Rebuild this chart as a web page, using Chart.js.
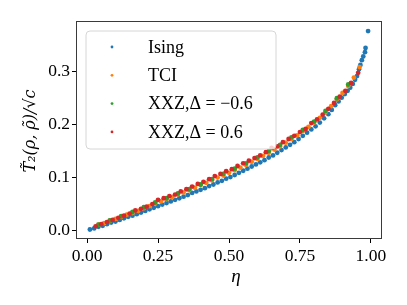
<!DOCTYPE html>
<html>
<head>
<meta charset="utf-8">
<script src="https://cdn.jsdelivr.net/npm/chart.js@4"></script>
<style>
  html, body { margin: 0; padding: 0; background: #fff; }
  #c { display: block; }
</style>
</head>
<body>
<canvas id="c" width="407" height="305"></canvas>
<script>
// ---------------- data ----------------
const isingEta = [0.010,0.025,0.040,0.055,0.070,0.085,0.100,0.115,0.130,0.145,0.160,0.175,0.190,0.205,0.220,0.235,0.250,0.265,0.280,0.295,0.310,0.325,0.340,0.355,0.370,0.385,0.400,0.415,0.430,0.445,0.460,0.475,0.490,0.505,0.520,0.535,0.550,0.565,0.580,0.595,0.610,0.625,0.640,0.655,0.670,0.685,0.700,0.715,0.730,0.745,0.760,0.775,0.790,0.805,0.820,0.835,0.850,0.862,0.874,0.886,0.897,0.908,0.918,0.927,0.936,0.944,0.951,0.958,0.963,0.968,0.973,0.979,0.981,0.990];
const isingT2 = [0.002,0.004,0.007,0.009,0.012,0.015,0.017,0.020,0.023,0.026,0.028,0.031,0.034,0.037,0.040,0.043,0.046,0.049,0.052,0.055,0.058,0.061,0.064,0.067,0.071,0.074,0.077,0.080,0.084,0.087,0.091,0.094,0.098,0.101,0.105,0.109,0.113,0.117,0.121,0.125,0.129,0.133,0.138,0.142,0.147,0.152,0.157,0.162,0.167,0.173,0.179,0.185,0.191,0.197,0.204,0.212,0.220,0.228,0.237,0.244,0.251,0.258,0.264,0.270,0.277,0.285,0.292,0.305,0.313,0.322,0.329,0.337,0.345,0.377];

const tciEta = [0.04,0.06,0.08,0.10,0.12,0.14,0.16,0.18,0.20,0.22,0.24,0.26,0.28,0.30,0.32,0.34,0.36,0.38,0.40,0.42,0.44,0.46,0.48,0.50,0.52,0.54,0.56,0.58,0.60,0.62,0.64,0.66,0.68,0.70,0.72,0.74,0.76,0.78,0.80,0.82,0.84,0.86,0.88,0.90,0.92,0.94,0.96];
const tciT2 = [0.011,0.014,0.018,0.022,0.026,0.030,0.033,0.037,0.042,0.046,0.051,0.055,0.059,0.063,0.068,0.072,0.076,0.081,0.086,0.090,0.095,0.100,0.104,0.109,0.114,0.119,0.124,0.130,0.135,0.141,0.147,0.153,0.159,0.166,0.173,0.180,0.188,0.196,0.204,0.213,0.223,0.235,0.248,0.260,0.273,0.289,0.309];

const xxzNegEta = [0.04,0.08,0.12,0.16,0.20,0.24,0.28,0.32,0.36,0.40,0.44,0.48,0.52,0.56,0.60,0.64,0.68,0.72,0.76,0.80,0.84,0.88,0.92];
const xxzNegT2 = [0.011,0.019,0.027,0.035,0.044,0.053,0.061,0.070,0.078,0.087,0.097,0.107,0.117,0.127,0.138,0.150,0.162,0.176,0.190,0.206,0.226,0.250,0.276];

const xxzPosEta = [0.03,0.05,0.07,0.09,0.11,0.13,0.15,0.17,0.19,0.21,0.23,0.25,0.27,0.29,0.31,0.33,0.35,0.37,0.39,0.41,0.43,0.45,0.47,0.49,0.51,0.53,0.55,0.57,0.59,0.61,0.63,0.65,0.67,0.69,0.71,0.73,0.75,0.77,0.79,0.81,0.83,0.85,0.87,0.89,0.91,0.93,0.955];
const xxzPosT2 = [0.008,0.012,0.016,0.020,0.024,0.028,0.032,0.038,0.041,0.045,0.050,0.058,0.061,0.065,0.068,0.074,0.078,0.083,0.088,0.092,0.097,0.103,0.107,0.112,0.116,0.122,0.127,0.132,0.137,0.142,0.148,0.156,0.159,0.167,0.173,0.179,0.186,0.192,0.203,0.210,0.219,0.230,0.241,0.253,0.264,0.279,0.298];

const seriesLabels = ['Ising', 'TCI', 'XXZ,\u0394 = \u22120.6', 'XXZ,\u0394 = 0.6'];
const seriesColors = ['#1f77b4', '#ff7f0e', '#2ca02c', '#d62728'];

const xTicks = [0, 0.25, 0.5, 0.75, 1.0];
const yTicks = [0, 0.1, 0.2, 0.3];

const xTitle = '\u03B7';
const yTitle = 'T\u0303\u2082(\u03C1, \u03C1\u0303)/\u221Ac';

// ---------------- helpers ----------------
const toPoints = (xs, ys) => xs.map((x, i) => ({ x: x, y: ys[i] }));
const serif = '"Liberation Serif", "DejaVu Serif", serif';

const frameAndLabels = {
  id: 'frameAndLabels',
  afterDraw(chart) {
    const { ctx, chartArea: a } = chart;
    ctx.save();
    // axes frame
    ctx.strokeStyle = '#3a3a3a';
    ctx.lineWidth = 1;
    ctx.strokeRect(a.left + 0.5, a.top + 0.5, a.right - a.left - 1, a.bottom - a.top - 1);

    // axis titles
    ctx.fillStyle = '#000';
    ctx.font = 'italic 19px ' + serif;
    ctx.textAlign = 'center';
    ctx.textBaseline = 'middle';
    ctx.fillText(xTitle, (a.left + a.right) / 2 + 7, 277);
    ctx.translate(31, 131);
    ctx.rotate(-Math.PI / 2);
    ctx.font = 'italic 16px "DejaVu Serif", serif';
    ctx.fillText(yTitle, 0, 0);
    ctx.restore();

    // legend
    ctx.save();
    const lx = 86, ly = 31, lw = 190, lh = 118, r = 4;
    ctx.beginPath();
    ctx.moveTo(lx + r, ly);
    ctx.arcTo(lx + lw, ly, lx + lw, ly + lh, r);
    ctx.arcTo(lx + lw, ly + lh, lx, ly + lh, r);
    ctx.arcTo(lx, ly + lh, lx, ly, r);
    ctx.arcTo(lx, ly, lx + lw, ly, r);
    ctx.closePath();
    ctx.fillStyle = 'rgba(255,255,255,0.8)';
    ctx.fill();
    ctx.strokeStyle = '#d6d6d6';
    ctx.lineWidth = 1;
    ctx.stroke();

    ctx.font = '18px ' + serif;
    ctx.textAlign = 'left';
    ctx.textBaseline = 'middle';
    seriesLabels.forEach((label, i) => {
      const y = 47 + i * 28.3;
      ctx.fillStyle = seriesColors[i];
      ctx.beginPath();
      ctx.arc(112, y, 1.4, 0, Math.PI * 2);
      ctx.fill();
      ctx.fillStyle = '#000';
      ctx.fillText(label, 148, y + 1);
    });
    ctx.restore();
  }
};

const datasets = [
  [isingEta, isingT2],
  [tciEta, tciT2],
  [xxzNegEta, xxzNegT2],
  [xxzPosEta, xxzPosT2],
].map(([xs, ys], i) => ({
  label: seriesLabels[i],
  data: toPoints(xs, ys),
  backgroundColor: seriesColors[i],
  borderWidth: 0,
  pointRadius: 2.4,
  order: 4 - i,
}));

new Chart(document.getElementById('c'), {
  type: 'scatter',
  data: { datasets: datasets },
  options: {
    responsive: false,
    animation: false,
    devicePixelRatio: 1,
    layout: { padding: { top: 21, right: 25, left: 0, bottom: 0 } },
    plugins: {
      legend: { display: false },
      tooltip: { enabled: false },
    },
    scales: {
      x: {
        type: 'linear',
        min: -0.039,
        max: 1.039,
        afterBuildTicks: (s) => { s.ticks = xTicks.map(v => ({ value: v })); },
        afterFit: (s) => { s.height = 66; },
        border: { display: false },
        grid: { drawOnChartArea: false, drawTicks: true, tickLength: 4, tickColor: '#000', lineWidth: 1 },
        ticks: {
          color: '#000',
          padding: 3,
          maxRotation: 0,
          font: { family: serif, size: 17.5 },
          callback: (v) => Number(v).toFixed(2),
        },
      },
      y: {
        type: 'linear',
        min: -0.016,
        max: 0.396,
        afterBuildTicks: (s) => { s.ticks = yTicks.map(v => ({ value: v })); },
        afterFit: (s) => { s.width = 76; },
        border: { display: false },
        grid: { drawOnChartArea: false, drawTicks: true, tickLength: 4, tickColor: '#000', lineWidth: 1 },
        ticks: {
          color: '#000',
          padding: 2,
          font: { family: serif, size: 17.5 },
          callback: (v) => Number(v).toFixed(1),
        },
      },
    },
  },
  plugins: [frameAndLabels],
});
</script>
</body>
</html>
